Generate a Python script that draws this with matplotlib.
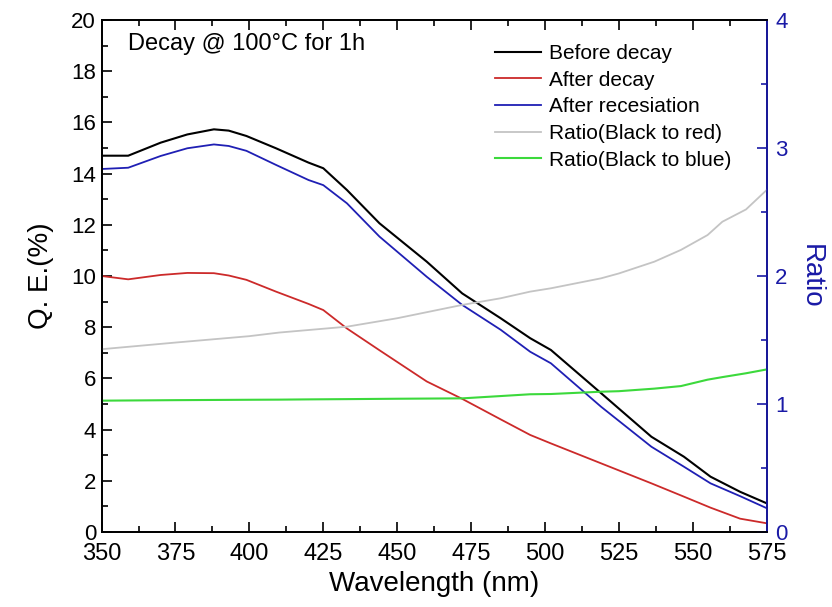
import numpy as np
import matplotlib
matplotlib.use("Agg")
import matplotlib.pyplot as plt
from matplotlib.ticker import MultipleLocator

plt.rcParams['font.family'] = ['Liberation Sans', 'DejaVu Sans']

# Q.E. curves (left axis, %)
wavelength = [350, 359, 370, 379, 388, 393, 399, 409, 420, 425, 433, 444,
              460, 472, 485, 495, 502, 519, 536, 547, 556, 566, 575]
before_decay = [14.70, 14.70, 15.21, 15.53, 15.73, 15.68, 15.47, 14.99, 14.43,
                14.21, 13.36, 12.06, 10.56, 9.32, 8.35, 7.57, 7.11, 5.42, 3.72,
                2.94, 2.16, 1.57, 1.12]
after_decay = [10.00, 9.87, 10.04, 10.12, 10.11, 10.02, 9.85, 9.39, 8.91,
               8.67, 7.95, 7.10, 5.88, 5.20, 4.40, 3.79, 3.46, 2.68, 1.90,
               1.38, 0.95, 0.52, 0.34]
after_resec = [14.18, 14.23, 14.69, 14.99, 15.14, 15.08, 14.89, 14.34, 13.75,
               13.55, 12.84, 11.54, 9.97, 8.87, 7.90, 7.04, 6.59, 4.89, 3.33,
               2.55, 1.90, 1.40, 0.93]

# Ratio curves (right axis)
ratio_wl = [350, 375, 400, 410, 420, 433, 450, 472, 485, 495, 502, 519, 525,
            537, 546, 555, 560, 568, 575]
ratio_red = [1.428, 1.48, 1.53, 1.558, 1.578, 1.604, 1.67, 1.774, 1.826, 1.878,
             1.904, 1.982, 2.02, 2.112, 2.204, 2.32, 2.424, 2.52, 2.672]
ratio_blue = [1.026, 1.030, 1.033, 1.034, 1.036, 1.038, 1.041, 1.044, 1.062,
              1.076, 1.078, 1.096, 1.10, 1.12, 1.14, 1.19, 1.21, 1.24, 1.27]

labels = ["Before decay", "After decay", "After recesiation",
          "Ratio(Black to red)", "Ratio(Black to blue)"]

axis_blue = "#1a1aa6"

fig = plt.figure(figsize=(8.32, 6.07), dpi=100)
ax = fig.add_axes([0.1221, 0.1236, 0.7994, 0.8434])
ax2 = ax.twinx()

l1, = ax.plot(wavelength, before_decay, color="black", lw=1.5)
l2, = ax.plot(wavelength, after_decay, color="#cc2a2a", lw=1.3)
l3, = ax.plot(wavelength, after_resec, color="#1f1fb4", lw=1.3)
l4, = ax2.plot(ratio_wl, ratio_red, color="#c4c4c4", lw=1.3)
l5, = ax2.plot(ratio_wl, ratio_blue, color="#3cd93c", lw=1.5)

ax.set_xlim(350, 575)
ax.set_ylim(0, 20)
ax2.set_ylim(0, 4)

ax.xaxis.set_major_locator(MultipleLocator(25))
ax.xaxis.set_minor_locator(MultipleLocator(12.5))
ax.yaxis.set_major_locator(MultipleLocator(2))
ax.yaxis.set_minor_locator(MultipleLocator(1))
ax2.yaxis.set_major_locator(MultipleLocator(1))
ax2.yaxis.set_minor_locator(MultipleLocator(0.5))

ax.tick_params(axis='x', which='both', direction='in', top=True, labelsize=17,
               pad=8)
ax.tick_params(axis='y', which='both', direction='in', labelsize=16, pad=4)
ax.tick_params(which='major', length=7, width=1.2)
ax.tick_params(which='minor', length=4, width=1.2)
ax2.tick_params(axis='y', which='both', direction='in', colors=axis_blue,
                labelsize=16, pad=6)
ax2.tick_params(which='major', length=7, width=1.2)
ax2.tick_params(which='minor', length=4, width=1.2)

for s in ax.spines.values():
    s.set_linewidth(1.3)
for s in ax2.spines.values():
    s.set_linewidth(1.3)
ax2.spines['right'].set_color(axis_blue)

ax.set_xlabel("Wavelength (nm)", fontsize=20, labelpad=4)
ax.set_ylabel("Q. E.(%)", fontsize=20, labelpad=12)
ax2.set_ylabel("Ratio", fontsize=20, color=axis_blue, rotation=270,
               labelpad=26)

ax.text(0.04, 0.975, "Decay @ 100\u00b0C for 1h", transform=ax.transAxes,
        fontsize=17, va="top", ha="left")

ax.legend([l1, l2, l3, l4, l5], labels, loc="upper right",
          bbox_to_anchor=(0.975, 0.99), frameon=False, fontsize=15,
          handlelength=2.2, handletextpad=0.4, labelspacing=0.37)

fig.savefig("out.png", dpi=100)
